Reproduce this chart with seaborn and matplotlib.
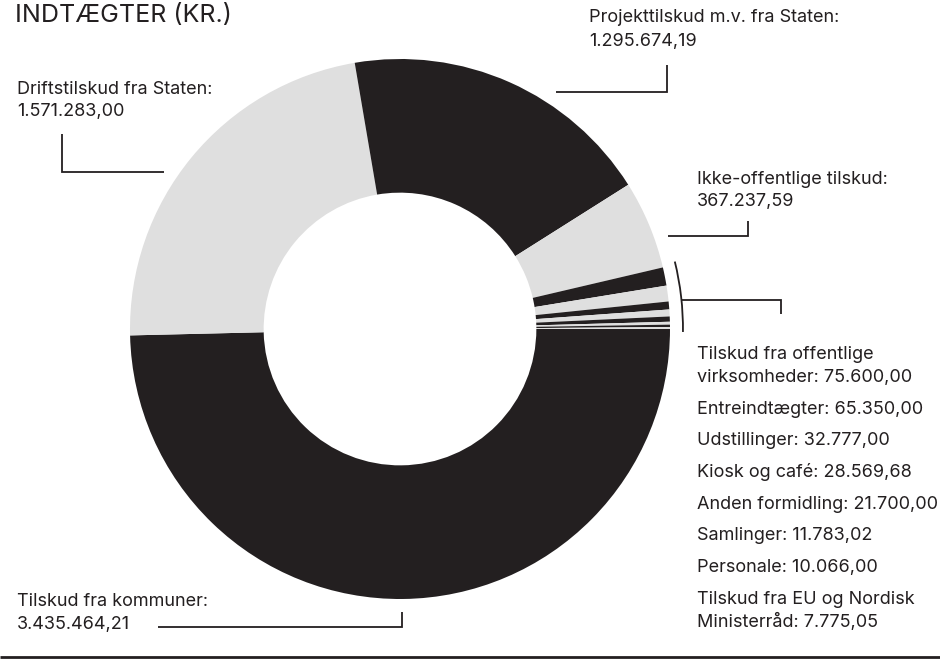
import textwrap
import matplotlib
matplotlib.use('Agg')
import matplotlib.pyplot as plt
import seaborn as sns
from matplotlib.lines import Line2D
from matplotlib.patches import Arc

# income posts (kr.), in the order they go round the ring (clockwise from 3 o'clock)
names = [
    'Tilskud fra kommuner',
    'Driftstilskud fra Staten',
    'Projekttilskud m.v. fra Staten',
    'Ikke-offentlige tilskud',
    'Tilskud fra offentlige virksomheder',
    'Entreindtægter',
    'Udstillinger',
    'Kiosk og café',
    'Anden formidling',
    'Samlinger',
    'Personale',
    'Tilskud fra EU og Nordisk Ministerråd',
]
values = [3435464.21, 1571283.00, 1295674.19, 367237.59, 75600.00, 65350.00,
          32777.00, 28569.68, 21700.00, 11783.02, 10066.00, 7775.05]
title = 'INDTÆGTER (KR.)'

BLACK = '#231f20'
GREY = '#dfdfdf'
W, H = 940, 662


def dk(v):
    # danish number format 1.234.567,89
    return f'{v:,.2f}'.replace(',', '#').replace('.', ',').replace('#', '.')


def fx(x):
    return x / W


def fy(y):
    return 1 - y / H


def seg(fig, pts, lw=1.3):
    xs = [fx(p[0]) for p in pts]
    ys = [fy(p[1]) for p in pts]
    fig.add_artist(Line2D(xs, ys, color=BLACK, lw=lw, solid_capstyle='butt',
                          solid_joinstyle='miter'))


def txt(fig, x, y, s, size=13):
    fig.text(fx(x), fy(y), s, fontsize=size, color=BLACK, ha='left', va='baseline')


sns.set_theme(style='white')
plt.rcParams['font.family'] = ['Inter', 'DejaVu Sans']

colors = [BLACK if i % 2 == 0 else GREY for i in range(len(values))]

fig = plt.figure(figsize=(W / 100, H / 100), dpi=100)
fig.patch.set_facecolor('white')

# ring: centre (400, 329) px, radius 270 px
ax = fig.add_axes([fx(130), fy(599), 540 / W, 540 / H])
ax.pie(values, colors=colors, startangle=0, counterclock=False, radius=1,
       wedgeprops=dict(width=0.495, linewidth=0))
ax.set_xlim(-1, 1)
ax.set_ylim(-1, 1)
ax.set_aspect('equal')
ax.axis('off')

# bracket round the small posts
total = sum(values)
small_deg = sum(values[4:]) / total * 360
ax.add_patch(Arc((0, 0), 2 * 1.048, 2 * 1.048, theta1=-0.6, theta2=small_deg + 0.6,
                 color=BLACK, lw=1.3, clip_on=False))

# title and rule
txt(fig, 15, 22, title, size=18)
seg(fig, [(0, 657), (W, 657)], lw=2)

# big posts
txt(fig, 17, 94, names[1] + ':')
txt(fig, 17, 116, dk(values[1]))
seg(fig, [(62, 134), (62, 172), (164, 172)])

txt(fig, 589, 22, names[2] + ':')
txt(fig, 589, 46, dk(values[2]))
seg(fig, [(667, 65), (667, 92), (556, 92)])

txt(fig, 697, 184, names[3] + ':')
txt(fig, 697, 206, dk(values[3]))
seg(fig, [(748, 221), (748, 236), (668, 236)])

txt(fig, 17, 606, names[0] + ':')
txt(fig, 17, 629, dk(values[0]))
seg(fig, [(158, 627), (402, 627), (402, 612)])

# small posts
seg(fig, [(682, 300), (781, 300), (781, 314)])
y = 359
for n, v in zip(names[4:], values[4:]):
    for line in textwrap.wrap(f'{n}: {dk(v)}', width=27):
        txt(fig, 697, y, line)
        y += 23
    y += 8.7

fig.savefig('out.png', dpi=100, facecolor='white')
